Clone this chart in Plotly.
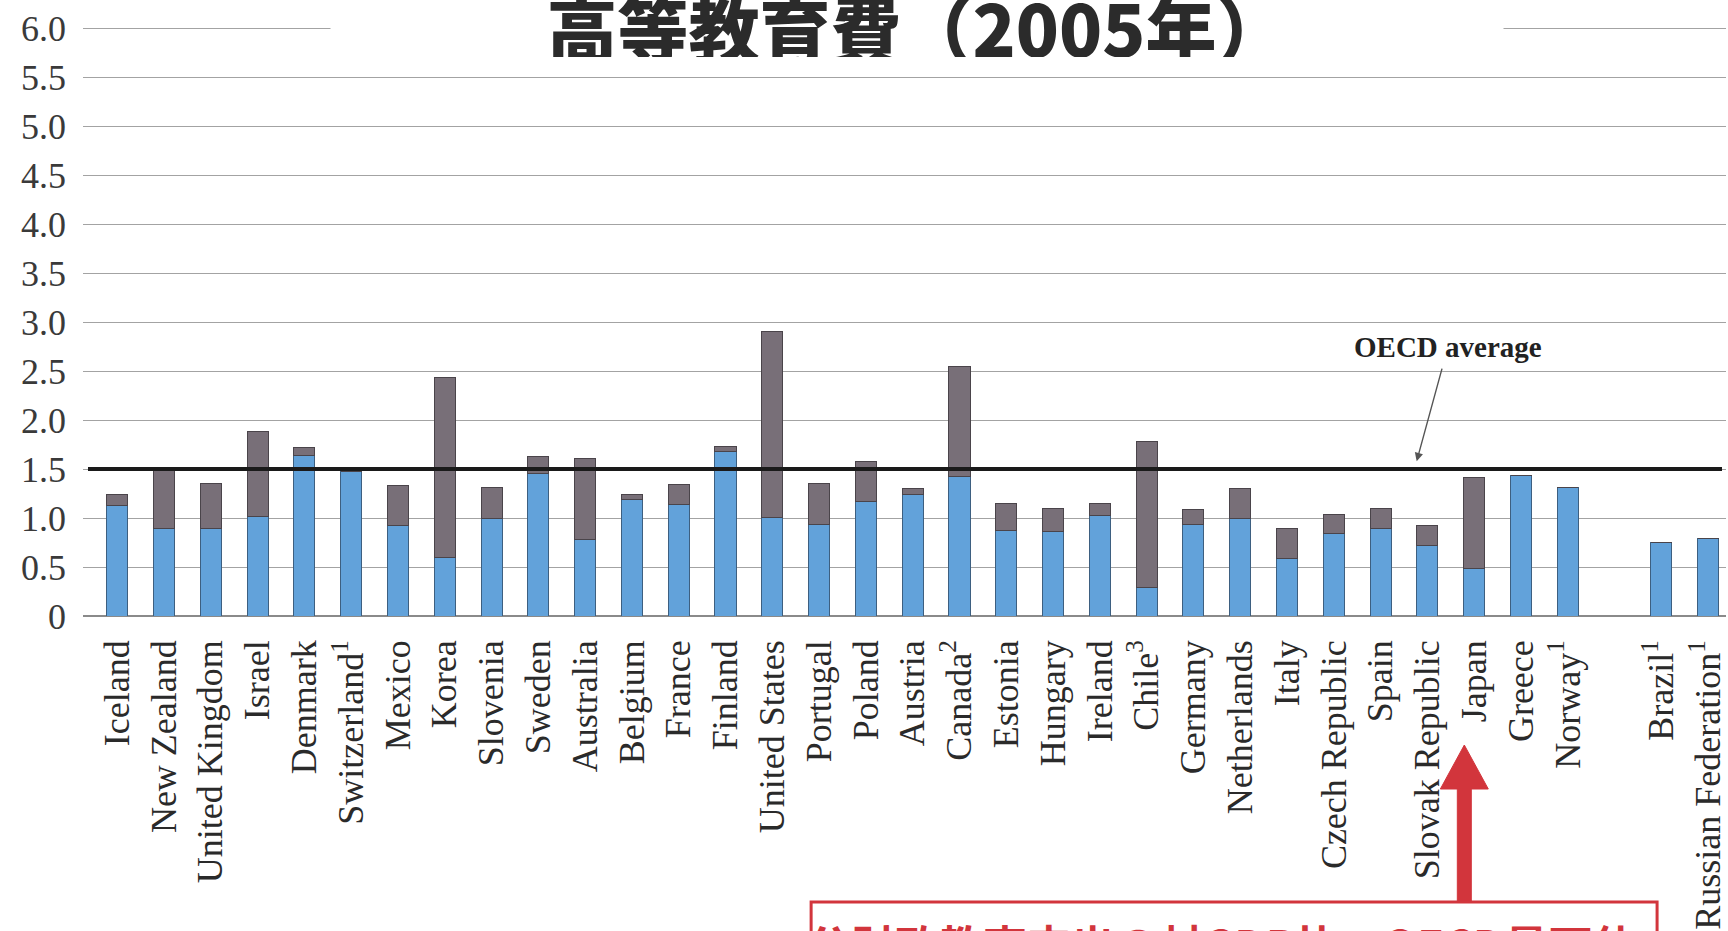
import plotly.graph_objects as go

# ---------------- data ----------------
countries = ["Iceland", "New Zealand", "United Kingdom", "Israel", "Denmark",
             "Switzerland<sup>1</sup>", "Mexico", "Korea", "Slovenia", "Sweden",
             "Australia", "Belgium", "France", "Finland", "United States",
             "Portugal", "Poland", "Austria", "Canada<sup>2</sup>", "Estonia",
             "Hungary", "Ireland", "Chile<sup>3</sup>", "Germany", "Netherlands",
             "Italy", "Czech Republic", "Spain", "Slovak Republic", "Japan",
             "Greece", "Norway<sup>1</sup>", " ", "Brazil<sup>1</sup>",
             "Russian Federation<sup>1</sup>"]
public = [1.13, 0.89, 0.89, 1.02, 1.64, 1.47, 0.92, 0.60, 1.00, 1.45,
          0.78, 1.19, 1.14, 1.68, 1.01, 0.93, 1.17, 1.24, 1.42, 0.87,
          0.86, 1.03, 0.29, 0.93, 0.99, 0.59, 0.84, 0.89, 0.72, 0.48,
          1.43, 1.31, None, 0.75, 0.79]
private = [0.11, 0.63, 0.46, 0.86, 0.08, 0.00, 0.41, 1.83, 0.31, 0.18,
           0.83, 0.05, 0.20, 0.05, 1.89, 0.42, 0.41, 0.06, 1.13, 0.28,
           0.24, 0.12, 1.49, 0.16, 0.31, 0.30, 0.20, 0.21, 0.20, 0.93,
           0.00, 0.00, None, 0.00, 0.00]
oecd_average = 1.5
y_tickvals = [0, 0.5, 1.0, 1.5, 2.0, 2.5, 3.0, 3.5, 4.0, 4.5, 5.0, 5.5, 6.0]
y_ticktext = ["0", "0.5", "1.0", "1.5", "2.0", "2.5", "3.0", "3.5", "4.0", "4.5", "5.0", "5.5", "6.0"]
title_text = "高等教育費（2005年）"
note_text = "公財政教育支出の対GDP比：OECD最下位"

# ---------------- layout constants ----------------
W, H = 1728, 931
L, R, T, B = 83, 0, 0, 315
plot_w = W - L - R
plot_h = H - T - B


def px(x):
    return (x - L) / plot_w


def py(y):
    return (T + plot_h - y) / plot_h


BLUE = "#62a2da"
GRAY = "#786f78"
RED = "#d2353c"
SERIF = "Liberation Serif, Times New Roman, serif"

fig = go.Figure()
fig.add_trace(go.Bar(x=countries, y=public, marker=dict(color=BLUE, line=dict(color="#3d5f80", width=1)),
                     showlegend=False, hoverinfo="x+y"))
fig.add_trace(go.Bar(x=countries, y=private, marker=dict(color=GRAY, line=dict(color="#4a444a", width=1)),
                     showlegend=False, hoverinfo="x+y"))

fig.update_layout(
    width=W, height=H,
    margin=dict(l=L, r=R, t=T, b=B, pad=0),
    barmode="stack", bargap=0.55,
    plot_bgcolor="white", paper_bgcolor="white",
    xaxis=dict(type="category", range=[-0.73, 34.38], tickangle=-90,
               tickfont=dict(family=SERIF, size=36, color="#2a2a2a"),
               ticks="", ticklabelstandoff=16, showgrid=False, showline=False),
    yaxis=dict(range=[0, 6.286], tickvals=y_tickvals, ticktext=y_ticktext,
               tickfont=dict(family=SERIF, size=36, color="#3a3a3a"),
               ticks="", ticklabelstandoff=16, showgrid=True,
               gridcolor="#a3a3a3", gridwidth=1, zeroline=True,
               zerolinecolor="#8a8a8a", zerolinewidth=1.5, showline=False),
)

# OECD average line
fig.add_shape(type="line", xref="paper", yref="y", x0=px(88), x1=px(1724),
              y0=oecd_average, y1=oecd_average, line=dict(color="#1a1a1a", width=4))

# title with white background covering gridline
fig.add_annotation(text=title_text, xref="paper", yref="paper", x=px(918), y=py(26),
                   showarrow=False, xanchor="center", yanchor="middle",
                   font=dict(family="Noto Sans CJK JP", size=71, color="#2b2b2b", weight=900),
                   bgcolor="white", width=1170, height=62)

# OECD average label and arrow
fig.add_annotation(text="<b>OECD average</b>", xref="x", yref="y", x=28.43, y=2.745,
                   showarrow=False, font=dict(family=SERIF, size=29, color="#222"))
fig.add_annotation(text="", xref="x", yref="y", x=27.77, y=1.58, ax=28.32, ay=2.54,
                   axref="x", ayref="y", showarrow=True, arrowhead=2, arrowsize=1.2,
                   arrowwidth=1.4, arrowcolor="#555")

# red arrow pointing at Japan
tipx, tipy = 1466, 745
path = (f"M {px(tipx)},{py(tipy)} L {px(tipx+24)},{py(789)} L {px(tipx+7)},{py(789)} "
        f"L {px(tipx+7)},{py(903)} L {px(tipx-7)},{py(903)} L {px(tipx-7)},{py(789)} "
        f"L {px(tipx-24)},{py(789)} Z")
fig.add_shape(type="path", xref="paper", yref="paper", path=path,
              fillcolor=RED, line=dict(color=RED, width=1))

# red box with note
fig.add_shape(type="rect", xref="paper", yref="paper", x0=px(812), x1=px(1659),
              y0=py(1000), y1=py(902), fillcolor="white", line=dict(color=RED, width=3))
fig.add_annotation(text=note_text, xref="paper", yref="paper", x=px(1223), y=py(944),
                   showarrow=False, xanchor="center", yanchor="middle",
                   font=dict(family="Noto Sans CJK JP", size=44, color=RED, weight="bold"))

fig.write_html("out.html", config={"displayModeBar": False},
               post_script="document.body.style.margin='0';document.body.style.overflow='hidden';")
